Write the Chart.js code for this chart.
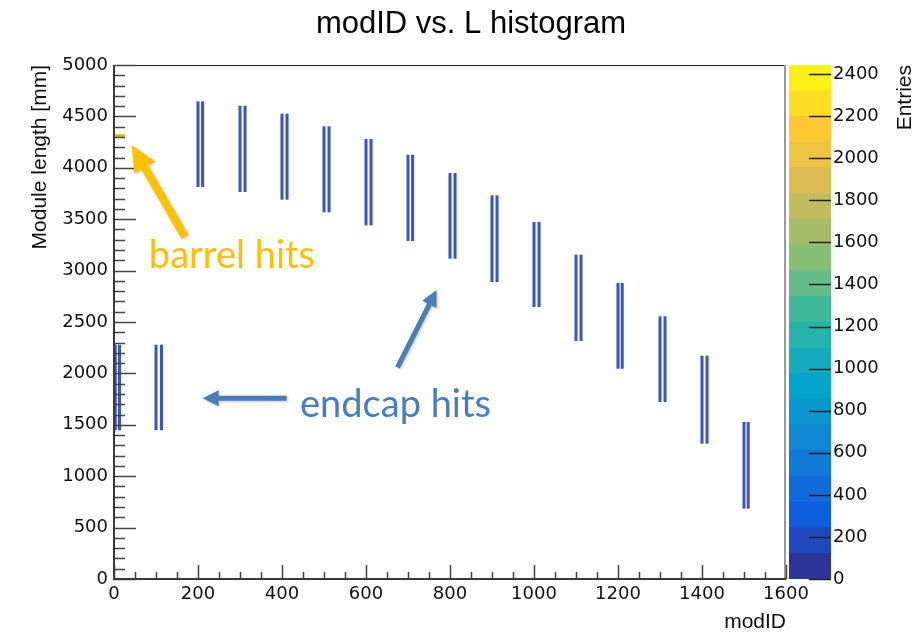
<!DOCTYPE html>
<html>
<head>
<meta charset="utf-8">
<script src="https://cdn.jsdelivr.net/npm/chart.js@4"></script>
<style>
  body { margin: 0; background: #fff; }
  #main { position: absolute; left: 0; top: 0; width: 923px; height: 633px; }
  #zbar { position: absolute; left: 789px; top: 0; width: 134px; height: 633px; }
</style>
</head>
<body>
<div id="main"><canvas id="histCanvas"></canvas></div>
<div id="zbar"><canvas id="paletteCanvas"></canvas></div>
<script>
// --- values ---
const xTickValues = [0, 200, 400, 600, 800, 1000, 1200, 1400, 1600];
const yTickValues = [0, 500, 1000, 1500, 2000, 2500, 3000, 3500, 4000, 4500, 5000];
const zTickValues = [0, 200, 400, 600, 800, 1000, 1200, 1400, 1600, 1800, 2000, 2200, 2400];

// each module group shows up as two thin vertical strips
const colIdA = [3, 100, 200, 300, 400, 500, 600, 700, 800, 900, 1000, 1100, 1200, 1300, 1400, 1500];
const colIdB = [13, 113, 211, 312, 412, 512, 612, 711, 812, 912, 1012, 1112, 1210, 1312, 1412, 1510];
const colLow = [1450, 1450, 3816, 3768, 3693, 3570, 3443, 3291, 3119, 2892, 2649, 2318, 2048, 1725, 1320, 688];
const colHigh = [2276, 2276, 4643, 4601, 4523, 4400, 4277, 4124, 3946, 3729, 3470, 3152, 2876, 2552, 2169, 1524];

// barrel hits: short high-count strip near modID 0
const barrelIds = [0, 26];
const barrelL = [4312, 4312];

// colour bar contour levels (Entries)
const zLevels = [0, 122, 244, 366, 489, 611, 733, 855, 977, 1099, 1222, 1344, 1466, 1588, 1710, 1832, 1955, 2077, 2199, 2321, 2443];

// annotations, in (modID, L) coordinates
const barrelNote = { text: 'barrel hits', x: 83, y: 3025 };
const barrelArrow = { from: [169, 3330], to: [42, 4222] };
const endcapNote = { text: 'endcap hits', x: 443, y: 1579 };
const endcapArrows = [
  { from: [411, 1758], to: [211, 1758] },
  { from: [675, 2059], to: [768, 2811] }
];

// --- ROOT kBird palette ---
const BIRD = {
  stops: [0, 0.125, 0.25, 0.375, 0.5, 0.625, 0.75, 0.875, 1],
  r: [0.2082, 0.0592, 0.0780, 0.0232, 0.1802, 0.5301, 0.8186, 0.9956, 0.9764],
  g: [0.1664, 0.3599, 0.5041, 0.6419, 0.7178, 0.7492, 0.7328, 0.7862, 0.9832],
  b: [0.5293, 0.8684, 0.8385, 0.7914, 0.6425, 0.4662, 0.3499, 0.1968, 0.0539]
};
function birdColor(t) {
  let k = 0;
  while (k < BIRD.stops.length - 2 && t > BIRD.stops[k + 1]) k++;
  const f = (t - BIRD.stops[k]) / (BIRD.stops[k + 1] - BIRD.stops[k]);
  const c = ch => Math.round(255 * (ch[k] + f * (ch[k + 1] - ch[k])));
  return `rgb(${c(BIRD.r)}, ${c(BIRD.g)}, ${c(BIRD.b)})`;
}
const nBands = zLevels.length - 1;
const bandColors = zLevels.slice(0, -1).map((_, i) => birdColor((i + 0.5) / nBands));

const TICK_FONT = { family: 'DejaVu Sans', size: 18 };
const LABEL_FONT = '"Liberation Sans", Arial, sans-serif';

function drawArrow(ctx, x0, y0, x1, y1, shaft, headW, headL) {
  const len = Math.hypot(x1 - x0, y1 - y0);
  const ux = (x1 - x0) / len, uy = (y1 - y0) / len;
  const px = -uy, py = ux;
  const bx = x1 - ux * headL, by = y1 - uy * headL;
  ctx.beginPath();
  ctx.moveTo(x0 + px * shaft / 2, y0 + py * shaft / 2);
  ctx.lineTo(bx + px * shaft / 2, by + py * shaft / 2);
  ctx.lineTo(bx + px * headW / 2, by + py * headW / 2);
  ctx.lineTo(x1, y1);
  ctx.lineTo(bx - px * headW / 2, by - py * headW / 2);
  ctx.lineTo(bx - px * shaft / 2, by - py * shaft / 2);
  ctx.lineTo(x0 - px * shaft / 2, y0 - py * shaft / 2);
  ctx.closePath();
  ctx.fill();
}

// frame, inward ROOT-style ticks, title and the hand-drawn notes
const rootFrame = {
  id: 'rootFrame',
  afterDraw(chart) {
    const { ctx, chartArea: a, scales: { x, y } } = chart;
    ctx.save();

    // title
    ctx.fillStyle = '#000';
    ctx.font = '31px ' + LABEL_FONT;
    ctx.textAlign = 'center';
    ctx.textBaseline = 'alphabetic';
    ctx.fillText('modID vs. L histogram', 471, 33);

    // frame
    ctx.strokeStyle = '#222';
    ctx.lineWidth = 1.2;
    ctx.beginPath();
    ctx.moveTo(a.left, a.top + 0.5); ctx.lineTo(a.right, a.top + 0.5);
    ctx.stroke();
    ctx.strokeStyle = '#9a9a9a';
    ctx.lineWidth = 2;
    ctx.beginPath();
    ctx.moveTo(a.right - 1, a.top); ctx.lineTo(a.right - 1, a.bottom);
    ctx.stroke();

    // inward ticks
    ctx.strokeStyle = '#444';
    ctx.lineWidth = 1.5;
    ctx.beginPath();
    for (let v = 0; v <= 5000; v += 100) {
      const py = Math.round(y.getPixelForValue(v)) + 0.5;
      const len = v % 500 === 0 ? 22 : 11;
      ctx.moveTo(a.left, py); ctx.lineTo(a.left + len, py);
    }
    for (let v = 0; v <= 1600; v += 50) {
      const px = Math.round(x.getPixelForValue(v)) + 0.5;
      const len = v % 200 === 0 ? 14 : 7;
      ctx.moveTo(px, a.bottom); ctx.lineTo(px, a.bottom - len);
    }
    ctx.stroke();

    // axis lines
    ctx.strokeStyle = '#3a3a3a';
    ctx.lineWidth = 2;
    ctx.beginPath();
    ctx.moveTo(a.left, a.top); ctx.lineTo(a.left, a.bottom);
    ctx.lineTo(a.right, a.bottom);
    ctx.stroke();

    // annotations
    ctx.shadowColor = 'rgba(0,0,0,0.25)';
    ctx.shadowBlur = 3;
    ctx.shadowOffsetX = 1;
    ctx.shadowOffsetY = 1;
    ctx.fillStyle = '#ffc000';
    drawArrow(ctx, x.getPixelForValue(barrelArrow.from[0]), y.getPixelForValue(barrelArrow.from[1]),
      x.getPixelForValue(barrelArrow.to[0]), y.getPixelForValue(barrelArrow.to[1]), 8, 24, 26);
    ctx.fillStyle = '#4a7ebb';
    endcapArrows.forEach(ar => {
      drawArrow(ctx, x.getPixelForValue(ar.from[0]), y.getPixelForValue(ar.from[1]),
        x.getPixelForValue(ar.to[0]), y.getPixelForValue(ar.to[1]), 5, 16, 16);
    });
    ctx.shadowColor = 'transparent';

    ctx.font = '38px Lato, "Open Sans", sans-serif';
    ctx.textAlign = 'left';
    ctx.fillStyle = '#ffc000';
    ctx.fillText(barrelNote.text, x.getPixelForValue(barrelNote.x), y.getPixelForValue(barrelNote.y));
    ctx.fillStyle = '#4a7ebb';
    ctx.fillText(endcapNote.text, x.getPixelForValue(endcapNote.x), y.getPixelForValue(endcapNote.y));

    ctx.restore();
  }
};

const strips = colIdA.map((id, i) => ({ x: id, y: [colLow[i], colHigh[i]] }))
  .concat(colIdB.map((id, i) => ({ x: id, y: [colLow[i], colHigh[i]] })));

new Chart(document.getElementById('histCanvas'), {
  type: 'bar',
  data: {
    datasets: [{
      label: 'endcap / barrel modules',
      data: strips,
      backgroundColor: '#3a55c4',
      borderWidth: 0,
      barThickness: 2.4
    }, {
      type: 'line',
      label: 'barrel hits',
      data: barrelIds.map((id, i) => ({ x: id, y: barrelL[i] })),
      borderColor: '#d6bd2c',
      borderWidth: 3,
      pointRadius: 0
    }]
  },
  options: {
    responsive: true,
    maintainAspectRatio: false,
    animation: false,
    layout: { padding: { top: 65, right: 137, left: 0, bottom: 0 } },
    plugins: { legend: { display: false }, tooltip: { enabled: false }, title: { display: false } },
    scales: {
      x: {
        type: 'linear', min: 0, max: 1600, offset: false,
        grid: { display: false, drawTicks: false },
        border: { display: false },
        afterBuildTicks: s => { s.ticks = xTickValues.map(v => ({ value: v })); },
        afterFit: s => { s.height = 54; },
        ticks: { font: TICK_FONT, color: '#111', padding: 5, maxRotation: 0, autoSkip: false, callback: v => String(v) },
        title: { display: true, text: 'modID', align: 'end', color: '#111',
          font: { family: 'Liberation Sans', size: 21, lineHeight: 1 }, padding: { top: 0, bottom: 0 } }
      },
      y: {
        type: 'linear', min: 0, max: 5000,
        grid: { display: false, drawTicks: false },
        border: { display: false },
        afterBuildTicks: s => { s.ticks = yTickValues.map(v => ({ value: v })); },
        afterFit: s => { s.width = 114; },
        ticks: { font: TICK_FONT, color: '#111', padding: 6, autoSkip: false, callback: v => String(v) },
        title: { display: true, text: 'Module length [mm]', align: 'end', color: '#111',
          font: { family: 'Liberation Sans', size: 21, lineHeight: 1 }, padding: { top: 30, bottom: 0 } }
      }
    }
  },
  plugins: [rootFrame]
});

// colour bar
const paletteDecor = {
  id: 'paletteDecor',
  afterDraw(chart) {
    const { ctx, chartArea: a, scales: { y } } = chart;
    ctx.save();
    ctx.strokeStyle = '#222';
    ctx.lineWidth = 1.5;
    ctx.beginPath();
    zTickValues.forEach(v => {
      const py = Math.round(y.getPixelForValue(v)) + 0.5;
      ctx.moveTo(a.left + 20, py); ctx.lineTo(a.right, py);
    });
    ctx.stroke();
    ctx.fillStyle = '#111';
    ctx.font = '21px ' + LABEL_FONT;
    ctx.translate(a.right + 74, a.top);
    ctx.rotate(-Math.PI / 2);
    ctx.textAlign = 'right';
    ctx.textBaseline = 'middle';
    ctx.fillText('Entries', 0, 0);
    ctx.restore();
  }
};

new Chart(document.getElementById('paletteCanvas'), {
  type: 'bar',
  data: {
    labels: ['Entries'],
    datasets: bandColors.map((col, i) => ({
      data: [[zLevels[i], zLevels[i + 1]]],
      backgroundColor: col,
      borderWidth: 0,
      barPercentage: 1,
      categoryPercentage: 1,
      grouped: false
    }))
  },
  options: {
    responsive: true,
    maintainAspectRatio: false,
    animation: false,
    layout: { padding: { top: 65, bottom: 54, left: 0, right: 0 } },
    plugins: { legend: { display: false }, tooltip: { enabled: false } },
    scales: {
      x: { display: false },
      y: {
        position: 'right', min: 0, max: zLevels[zLevels.length - 1],
        grid: { display: false, drawTicks: false },
        border: { display: false },
        afterBuildTicks: s => { s.ticks = zTickValues.map(v => ({ value: v })); },
        afterFit: s => { s.width = 92; },
        ticks: { font: TICK_FONT, color: '#111', padding: 2, autoSkip: false, callback: v => String(v) }
      }
    }
  },
  plugins: [paletteDecor]
});
</script>
</body>
</html>
